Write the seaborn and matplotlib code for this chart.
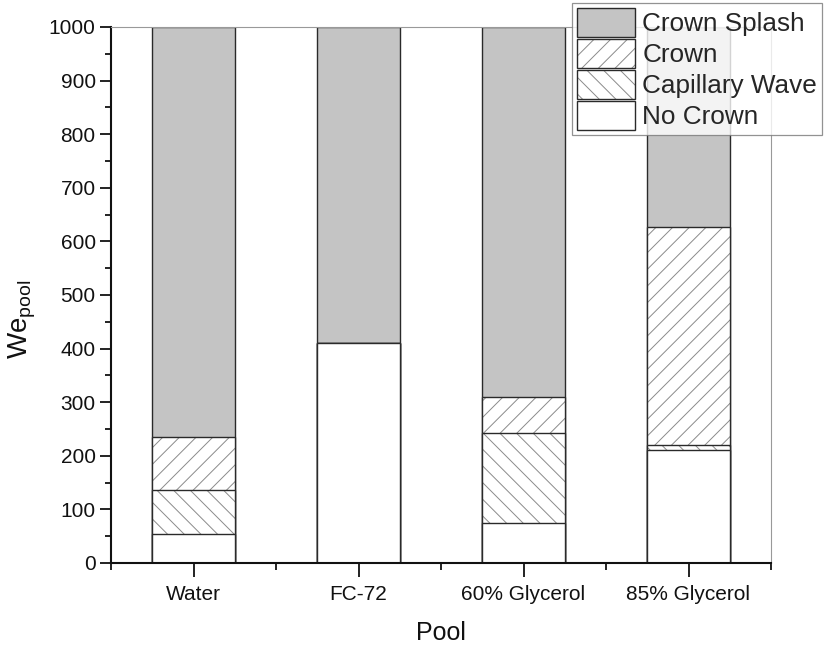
import matplotlib
matplotlib.use("Agg")
import matplotlib.pyplot as plt
import matplotlib.patches as mpatches
from matplotlib.ticker import MultipleLocator, FixedLocator
import seaborn as sns
import pandas as pd

# ---- data (upper boundary of each regime, We_pool) ----
pools = ["Water", "FC-72", "60% Glycerol", "85% Glycerol"]
no_crown_top = [55, 410, 75, 210]
capillary_top = [137, 410, 242, 220]
crown_top = [236, 410, 310, 627]
splash_top = [1000, 1000, 1000, 1000]
legend_labels = ["Crown Splash", "Crown", "Capillary Wave", "No Crown"]

sns.set_style("ticks")
plt.rcParams["font.family"] = ["Liberation Sans", "DejaVu Sans"]
plt.rcParams["mathtext.default"] = "regular"
plt.rcParams["hatch.linewidth"] = 0.7

df = pd.DataFrame({
    "pool": pools,
    "nocrown": no_crown_top,
    "cap": capillary_top,
    "crown": crown_top,
    "splash": splash_top,
})

fig = plt.figure(figsize=(8.24, 6.48), dpi=100)
ax = fig.add_axes([111 / 824, 1 - 563 / 648, (771 - 111) / 824, (563 - 27) / 648])

edge = "#2a2a2a"
hatchc = "#8a8a8a"
gray = "#c4c4c4"
layers = [
    ("splash", gray, None),
    ("crown", "white", "//"),
    ("cap", "white", "\\\\"),
    ("nocrown", "white", None),
]
for col, fc, hatch in layers:
    if hatch:
        sns.barplot(data=df, x="pool", y=col, order=pools, ax=ax, width=0.5,
                    errorbar=None, facecolor=fc, edgecolor=hatchc, linewidth=0,
                    hatch=hatch)
        sns.barplot(data=df, x="pool", y=col, order=pools, ax=ax, width=0.5,
                    errorbar=None, facecolor="none", edgecolor=edge, linewidth=1.0)
    else:
        sns.barplot(data=df, x="pool", y=col, order=pools, ax=ax, width=0.5,
                    errorbar=None, facecolor=fc, edgecolor=edge, linewidth=1.0)

ax.set_xlim(-0.5, 3.5)
ax.set_ylim(0, 1000)
ax.yaxis.set_major_locator(MultipleLocator(100))
ax.yaxis.set_minor_locator(MultipleLocator(50))
ax.xaxis.set_minor_locator(FixedLocator([-0.5, 0.5, 1.5, 2.5, 3.5]))
ax.tick_params(axis="both", which="major", direction="out", length=8, width=1.3,
               labelsize=15, color="#111111", labelcolor="#111111", pad=3)
ax.tick_params(axis="both", which="minor", direction="out", length=4, width=1.3,
               color="#111111")
ax.tick_params(axis="x", which="major", length=10, pad=6)
ax.tick_params(axis="x", which="minor", length=5)

for s in ["left", "bottom"]:
    ax.spines[s].set_linewidth(1.5)
    ax.spines[s].set_color("#111111")
for s in ["top", "right"]:
    ax.spines[s].set_visible(True)
    ax.spines[s].set_linewidth(0.8)
    ax.spines[s].set_color("#999999")

ax.set_xlabel("Pool", fontsize=18, labelpad=12, color="#111111")
ax.set_ylabel("We$_{pool}$", fontsize=20, labelpad=8, color="#111111")
ax.yaxis.label.set_y(0.455)

fills = [gray, "white", "white", "white"]
hatches = [None, "//", "\\\\", None]
handles = []
for fc, h in zip(fills, hatches):
    if h:
        p1 = mpatches.Patch(facecolor=fc, edgecolor=hatchc, linewidth=0, hatch=h)
        p2 = mpatches.Patch(facecolor="none", edgecolor=edge, linewidth=1.0)
        handles.append((p1, p2))
    else:
        handles.append(mpatches.Patch(facecolor=fc, edgecolor=edge, linewidth=1.0))

leg = fig.legend(handles, legend_labels, loc="upper left",
                 bbox_to_anchor=(572 / 824, 1 - 3 / 648), bbox_transform=fig.transFigure,
                 borderaxespad=0.0, fontsize=18.8, frameon=True, fancybox=False,
                 handlelength=2.2, handleheight=1.3, labelspacing=0.1,
                 handletextpad=0.3, borderpad=0.2)
leg.get_frame().set_edgecolor("#777777")
leg.get_frame().set_linewidth(0.9)

fig.savefig("out.png", dpi=100)
